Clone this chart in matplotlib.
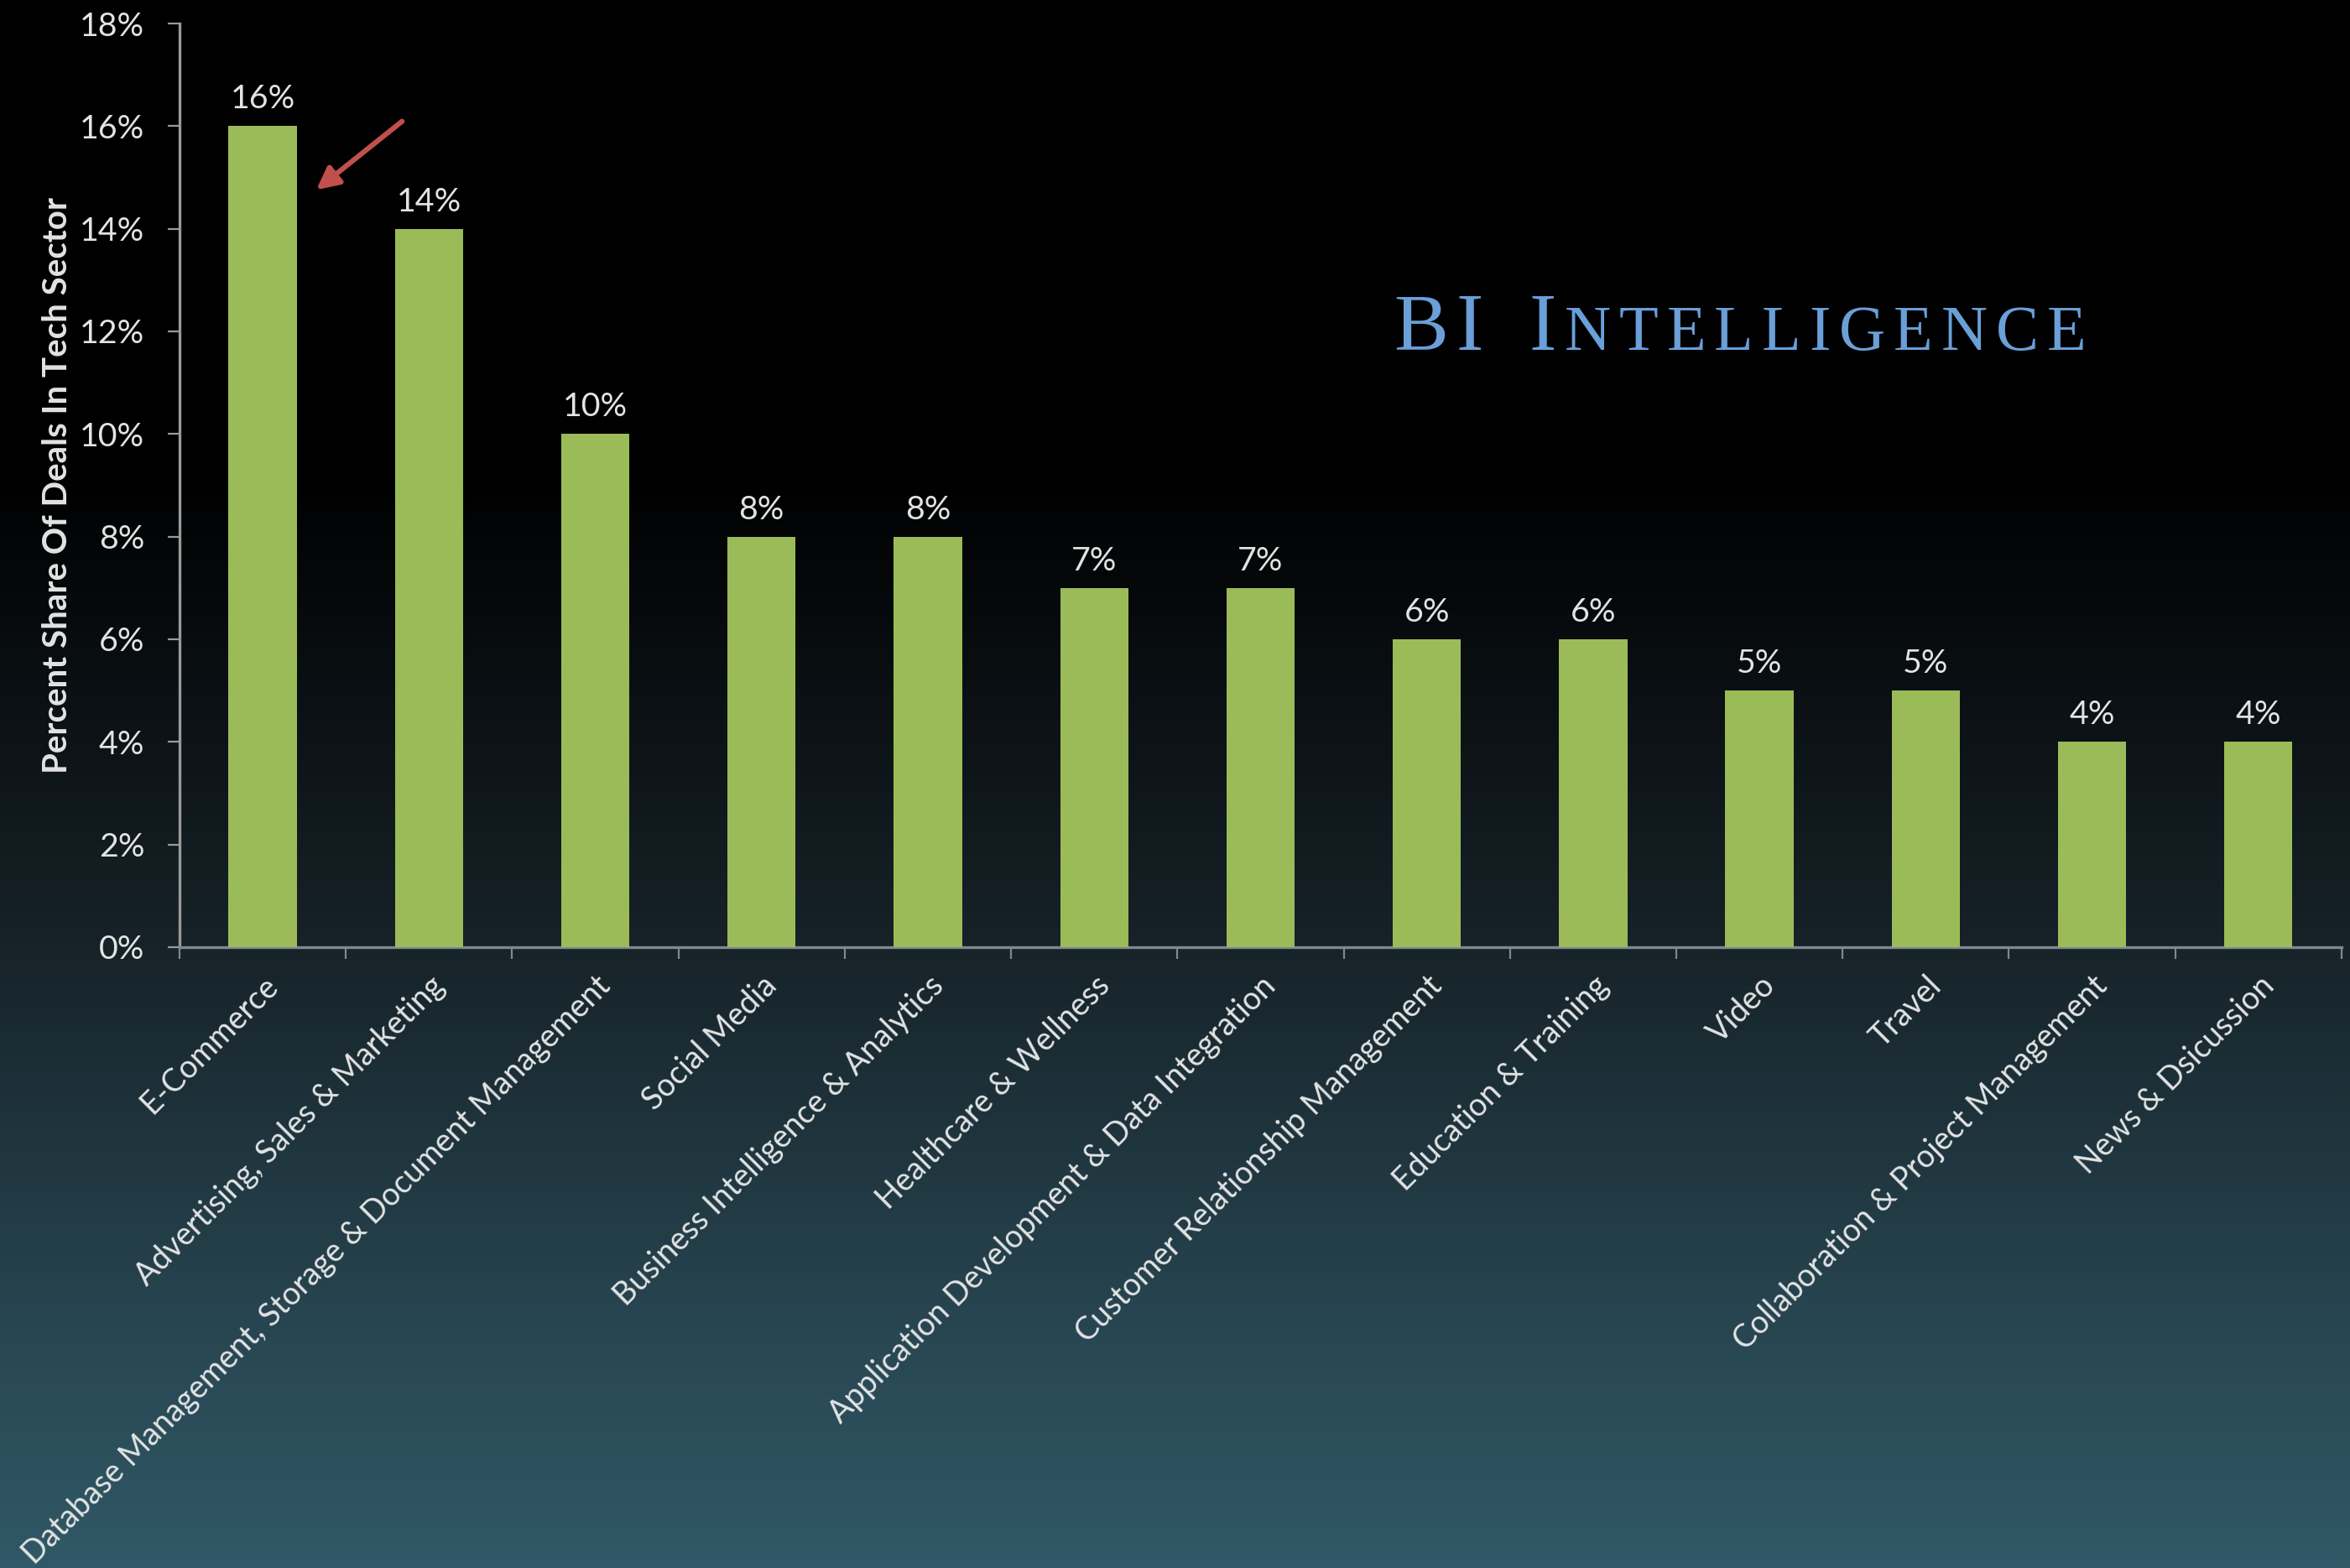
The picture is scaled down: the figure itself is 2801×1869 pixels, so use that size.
import numpy as np
import matplotlib
matplotlib.use("Agg")
import matplotlib.pyplot as plt
from matplotlib.colors import LinearSegmentedColormap

# chart data
categories = [
    "E-Commerce",
    "Advertising, Sales & Marketing",
    "Database Management, Storage & Document Management",
    "Social Media",
    "Business Intelligence & Analytics",
    "Healthcare & Wellness",
    "Application Development & Data Integration",
    "Customer Relationship Management",
    "Education & Training",
    "Video",
    "Travel",
    "Collaboration & Project Management",
    "News & Dsicussion",
]
shares = [16, 14, 10, 8, 8, 7, 7, 6, 6, 5, 5, 4, 4]
y_ticks = [0, 2, 4, 6, 8, 10, 12, 14, 16, 18]

text_col = "#e2e4e4"
bar_col = "#9bbb59"
font = "Lato"

fig = plt.figure(figsize=(2801 / 200, 1869 / 200), dpi=200)

# background gradient, black at the top, teal at the bottom
bg = fig.add_axes([0, 0, 1, 1], zorder=-10)
bg_cmap = LinearSegmentedColormap.from_list("bg", [
    (0.0, (0, 0, 0)),
    (0.30, (0, 0, 0)),
    (0.46, (12 / 255, 18 / 255, 22 / 255)),
    (0.60, (22 / 255, 34 / 255, 40 / 255)),
    (0.85, (40 / 255, 70 / 255, 82 / 255)),
    (1.0, (48 / 255, 88 / 255, 102 / 255)),
])
grad = np.linspace(0, 1, 512).reshape(-1, 1)
bg.imshow(grad, aspect="auto", cmap=bg_cmap, extent=[0, 1, 1, 0])
bg.set_axis_off()

ax = fig.add_axes([0.0764, 0.396, 0.92, 0.589])
ax.patch.set_alpha(0)

x = np.arange(len(categories))
bars = ax.bar(x, shares, width=0.41, color=bar_col, zorder=3)

for xi, v in zip(x, shares):
    ax.annotate(f"{v}%", (xi, v), xytext=(0, 5), textcoords="offset points",
                ha="center", va="bottom", color=text_col, fontsize=14.2, family=font)

ax.set_xlim(-0.5, len(categories) - 0.5)
ax.set_ylim(0, 18)
ax.set_yticks(y_ticks)
ax.set_yticklabels([f"{t}%" for t in y_ticks], family=font, fontsize=14.2, color=text_col)

# ticks between categories, labels at the bar centres
ax.set_xticks(np.arange(-0.5, len(categories) + 0.5, 1))
ax.set_xticklabels([])
ax.set_xticks(x, minor=True)
ax.set_xticklabels(categories, minor=True, rotation=45, ha="right",
                   rotation_mode="anchor", family=font, fontsize=13.5, color=text_col)
ax.tick_params(axis="x", which="minor", length=0, pad=10)
ax.tick_params(axis="x", which="major", length=5, color="#7a8a90", direction="out")
ax.tick_params(axis="y", length=5, color="#9a9a9a", pad=10)

for side in ["top", "right"]:
    ax.spines[side].set_visible(False)
ax.spines["left"].set_color("#9a9a9a")
ax.spines["bottom"].set_color("#7a8a90")
ax.spines["left"].set_linewidth(1.2)
ax.spines["bottom"].set_linewidth(1.2)

ax.set_ylabel("Percent Share Of Deals In Tech Sector", family=font, fontsize=14.5,
              fontweight="bold", color=text_col, labelpad=3)

# red arrow pointing at the E-Commerce bar
ax.annotate("", xy=(0.30, 14.7), xytext=(0.86, 16.15),
            arrowprops=dict(arrowstyle="-|>,head_length=0.8,head_width=0.4",
                            color="#c0504d", lw=2.2))

# "BI Intelligence" in small caps with wide letter spacing
title_col = "#6a9fd8"
pieces = [("B", 35), ("I", 35), (" ", 35), ("I", 35)] + [(c, 27.5) for c in "NTELLIGENCE"]
fig.canvas.draw()
renderer = fig.canvas.get_renderer()
base_y = 1 - 417 / 1869
cur = 1661 / 2801
track = 10 / 2801
for txt, size in pieces:
    t = fig.text(cur, base_y, txt, fontsize=size, family="Liberation Serif",
                 color=title_col, ha="left", va="baseline")
    w = t.get_window_extent(renderer).width if txt.strip() else size * 200 / 72 * 0.35
    cur += w / fig.bbox.width + track

fig.savefig("out.png", dpi=200, facecolor="black")
